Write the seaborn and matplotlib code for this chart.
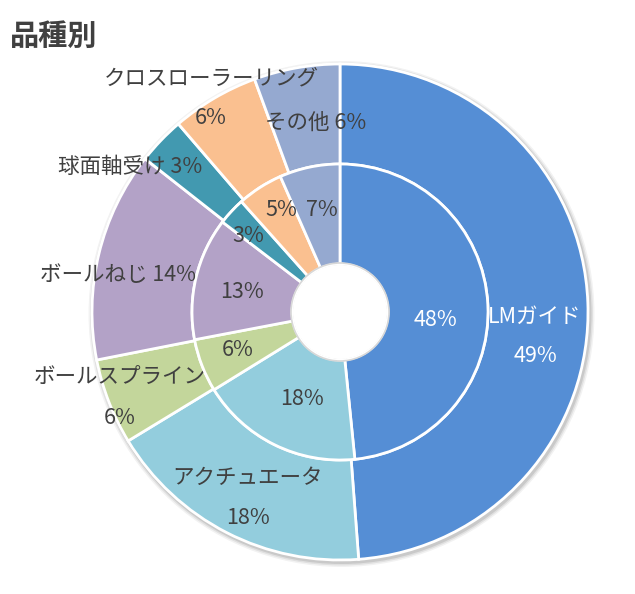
import numpy as np
import matplotlib
matplotlib.use("Agg")
import matplotlib.pyplot as plt
import seaborn as sns
from matplotlib.patches import Circle

# data (clockwise from 12 o'clock)
categories = ["LMガイド", "アクチュエータ", "ボールスプライン", "ボールねじ",
              "球面軸受け", "クロスローラーリング", "その他"]
outer_vals = [48.8, 17.5, 5.6, 13.7, 3.1, 5.7, 5.6]
inner_vals = [48.4, 17.8, 5.8, 13.4, 3.0, 5.0, 6.6]
colors = ["#558ED5", "#93CDDD", "#C3D69B", "#B3A2C7", "#4299B0", "#FAC090", "#95A9D0"]

sns.set_theme(style="white")
plt.rcParams['font.family'] = ['Noto Sans CJK JP', 'DejaVu Sans']

W, H = 635, 594
fig = plt.figure(figsize=(W / 100, H / 100), dpi=100)
ax = fig.add_axes([0, 0, 1, 1])

cx, cy = 340, H - 312
r_out, r_mid, r_in = 248, 148, 48

# soft shadow under the ring
for k, a in [(5, 0.05), (3.5, 0.07), (2, 0.10)]:
    ax.add_patch(Circle((cx + 1.5, cy - 2), r_out + k, color="#000000", alpha=a, lw=0, zorder=0))

wp = dict(edgecolor="white", linewidth=2)
ax.pie(outer_vals, colors=colors, radius=r_out, center=(cx, cy), startangle=90,
       counterclock=False, wedgeprops=dict(width=r_out - r_mid, **wp), frame=True)
ax.pie(inner_vals, colors=colors, radius=r_mid, center=(cx, cy), startangle=90,
       counterclock=False, wedgeprops=dict(width=r_mid - r_in, **wp), frame=True)
# hole
ax.add_patch(Circle((cx, cy), r_in - 1, color="white", lw=0, zorder=3))
ax.add_patch(Circle((cx, cy), r_in + 1, fill=False, ec="#d8d8d8", lw=1.2, zorder=2))

ax.set_xlim(0, W)
ax.set_ylim(0, H)
ax.set_aspect('equal')
ax.axis('off')

outer_pct = [f"{v:.0f}%" for v in outer_vals]
inner_pct = [f"{v:.0f}%" for v in inner_vals]

# label layout (pixel positions from top-left): (text, x, y)
outer_text = [
    (categories[0], 535, 317), (outer_pct[0], 535, 356),
    (categories[1], 248, 478), (outer_pct[1], 248, 518),
    (categories[2], 120, 378), (outer_pct[2], 120, 418),
    (categories[3] + " " + outer_pct[3], 118, 275),
    (categories[4] + " " + outer_pct[4], 130, 167),
    (categories[5], 211, 78), (outer_pct[5], 211, 118),
    (categories[6] + " " + outer_pct[6], 316, 123),
]
white_idx = [0, 1]
inner_pos = [(435, 320), (302, 399), (238, 350), (242, 292), (248, 236), (281, 210), (322, 210)]

fs = 15.5
for i, (t, x, y) in enumerate(outer_text):
    c = "white" if i in white_idx else "#404040"
    ax.text(x, H - y, t, ha="center", va="center", fontsize=fs, color=c, zorder=5)
for i, (x, y) in enumerate(inner_pos):
    c = "white" if i == 0 else "#404040"
    ax.text(x, H - y, inner_pct[i], ha="center", va="center", fontsize=fs, color=c, zorder=5)

fig.text(10 / W, 1 - 36 / H, "品種別", fontsize=21, fontweight="bold", color="#404040",
         ha="left", va="center")

fig.savefig("out.png", dpi=100)
